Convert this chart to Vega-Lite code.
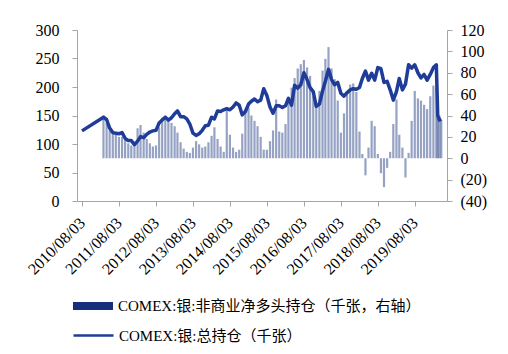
{
  "$schema": "https://vega.github.io/schema/vega-lite/v6.json",
  "width": 370,
  "height": 171,
  "autosize": {"type": "none"},
  "padding": {"left": 77, "top": 30, "right": 61, "bottom": 153},
  "background": "white",
  "config": {
    "view": {"stroke": null},
    "axis": {
      "labelFont": "Liberation Serif",
      "labelFontSize": 16,
      "labelColor": "#000000",
      "domainColor": "#a6a6a6",
      "tickColor": "#a6a6a6",
      "grid": false,
      "title": null
    },
    "legend": {
      "orient": "none",
      "title": null,
      "labelFont": "'Liberation Serif', 'Noto Sans CJK SC', serif",
      "labelFontSize": 15,
      "labelColor": "#000000",
      "labelLimit": 500,
      "labelOffset": 4,
      "symbolSize": 1600,
      "symbolOpacity": 1
    }
  },
  "data": {
    "values": [
      {"date": "2010-08-03", "total": 123, "net": null},
      {"date": "2011-03-03", "total": 147, "net": 40},
      {"date": "2011-04-03", "total": 143, "net": 33},
      {"date": "2011-05-03", "total": 128, "net": 26},
      {"date": "2011-06-03", "total": 120, "net": 24},
      {"date": "2011-07-03", "total": 119, "net": 22},
      {"date": "2011-08-03", "total": 118, "net": 20},
      {"date": "2011-09-03", "total": 120, "net": 20},
      {"date": "2011-10-03", "total": 110, "net": 18},
      {"date": "2011-11-03", "total": 106, "net": 14},
      {"date": "2011-12-03", "total": 106, "net": 12},
      {"date": "2012-01-03", "total": 99, "net": 15},
      {"date": "2012-02-03", "total": 105, "net": 28},
      {"date": "2012-03-03", "total": 113, "net": 31},
      {"date": "2012-04-03", "total": 111, "net": 24},
      {"date": "2012-05-03", "total": 117, "net": 18},
      {"date": "2012-06-03", "total": 121, "net": 14},
      {"date": "2012-07-03", "total": 123, "net": 11},
      {"date": "2012-08-03", "total": 124, "net": 12},
      {"date": "2012-09-03", "total": 137, "net": 29},
      {"date": "2012-10-03", "total": 142, "net": 38},
      {"date": "2012-11-03", "total": 147, "net": 40},
      {"date": "2012-12-03", "total": 142, "net": 35},
      {"date": "2013-01-03", "total": 146, "net": 33},
      {"date": "2013-02-03", "total": 153, "net": 30},
      {"date": "2013-03-03", "total": 158, "net": 24},
      {"date": "2013-04-03", "total": 148, "net": 15},
      {"date": "2013-05-03", "total": 148, "net": 9},
      {"date": "2013-06-03", "total": 144, "net": 6},
      {"date": "2013-07-03", "total": 135, "net": 5},
      {"date": "2013-08-03", "total": 119, "net": 10},
      {"date": "2013-09-03", "total": 115, "net": 16},
      {"date": "2013-10-03", "total": 118, "net": 13},
      {"date": "2013-11-03", "total": 124, "net": 10},
      {"date": "2013-12-03", "total": 132, "net": 11},
      {"date": "2014-01-03", "total": 133, "net": 15},
      {"date": "2014-02-03", "total": 147, "net": 21},
      {"date": "2014-03-03", "total": 144, "net": 29},
      {"date": "2014-04-03", "total": 158, "net": 18},
      {"date": "2014-05-03", "total": 157, "net": 11},
      {"date": "2014-06-03", "total": 160, "net": 6},
      {"date": "2014-07-03", "total": 162, "net": 48},
      {"date": "2014-08-03", "total": 160, "net": 22},
      {"date": "2014-09-03", "total": 165, "net": 10},
      {"date": "2014-10-03", "total": 172, "net": 6},
      {"date": "2014-11-03", "total": 168, "net": 8},
      {"date": "2014-12-03", "total": 151, "net": 23},
      {"date": "2015-01-03", "total": 157, "net": 45},
      {"date": "2015-02-03", "total": 170, "net": 47},
      {"date": "2015-03-03", "total": 175, "net": 40},
      {"date": "2015-04-03", "total": 179, "net": 35},
      {"date": "2015-05-03", "total": 174, "net": 30},
      {"date": "2015-06-03", "total": 177, "net": 20},
      {"date": "2015-07-03", "total": 197, "net": 8},
      {"date": "2015-08-03", "total": 185, "net": 8},
      {"date": "2015-09-03", "total": 165, "net": 16},
      {"date": "2015-10-03", "total": 154, "net": 26},
      {"date": "2015-11-03", "total": 167, "net": 55},
      {"date": "2015-12-03", "total": 167, "net": 25},
      {"date": "2016-01-03", "total": 164, "net": 24},
      {"date": "2016-02-03", "total": 167, "net": 32},
      {"date": "2016-03-03", "total": 180, "net": 52},
      {"date": "2016-04-03", "total": 168, "net": 66},
      {"date": "2016-05-03", "total": 203, "net": 75},
      {"date": "2016-06-03", "total": 198, "net": 84},
      {"date": "2016-07-03", "total": 204, "net": 88},
      {"date": "2016-08-03", "total": 225, "net": 92},
      {"date": "2016-09-03", "total": 213, "net": 85},
      {"date": "2016-10-03", "total": 199, "net": 77},
      {"date": "2016-11-03", "total": 192, "net": 58},
      {"date": "2016-12-03", "total": 166, "net": 50},
      {"date": "2017-01-03", "total": 170, "net": 63},
      {"date": "2017-02-03", "total": 193, "net": 82},
      {"date": "2017-03-03", "total": 210, "net": 93},
      {"date": "2017-04-03", "total": 231, "net": 104},
      {"date": "2017-05-03", "total": 213, "net": 84},
      {"date": "2017-06-03", "total": 204, "net": 74},
      {"date": "2017-07-03", "total": 208, "net": 54},
      {"date": "2017-08-03", "total": 189, "net": 24},
      {"date": "2017-09-03", "total": 184, "net": 42},
      {"date": "2017-10-03", "total": 190, "net": 63},
      {"date": "2017-11-03", "total": 195, "net": 69},
      {"date": "2017-12-03", "total": 197, "net": 70},
      {"date": "2018-01-03", "total": 196, "net": 62},
      {"date": "2018-02-03", "total": 199, "net": 25},
      {"date": "2018-03-03", "total": 215, "net": 4},
      {"date": "2018-04-03", "total": 228, "net": -16},
      {"date": "2018-05-03", "total": 212, "net": 10},
      {"date": "2018-06-03", "total": 224, "net": 35},
      {"date": "2018-07-03", "total": 212, "net": 30},
      {"date": "2018-08-03", "total": 234, "net": 4},
      {"date": "2018-09-03", "total": 232, "net": -14},
      {"date": "2018-10-03", "total": 208, "net": -27},
      {"date": "2018-11-03", "total": 210, "net": -9},
      {"date": "2018-12-03", "total": 195, "net": 6},
      {"date": "2019-01-03", "total": 177, "net": 32},
      {"date": "2019-02-03", "total": 192, "net": 55},
      {"date": "2019-03-03", "total": 215, "net": 22},
      {"date": "2019-04-03", "total": 195, "net": 10},
      {"date": "2019-05-03", "total": 205, "net": -18},
      {"date": "2019-06-03", "total": 239, "net": 5},
      {"date": "2019-07-03", "total": 233, "net": 35},
      {"date": "2019-08-03", "total": 239, "net": 63},
      {"date": "2019-09-03", "total": 225, "net": 56},
      {"date": "2019-10-03", "total": 216, "net": 54},
      {"date": "2019-11-03", "total": 222, "net": 50},
      {"date": "2019-12-03", "total": 212, "net": 46},
      {"date": "2020-01-03", "total": 222, "net": 58},
      {"date": "2020-02-03", "total": 234, "net": 68},
      {"date": "2020-03-03", "total": 239, "net": 66},
      {"date": "2020-03-17", "total": 150, "net": 48},
      {"date": "2020-04-03", "total": 142, "net": 40},
      {"date": "2020-04-21", "total": 144, "net": 35}
    ]
  },
  "encoding": {
    "x": {
      "field": "date",
      "type": "temporal",
      "scale": {
        "type": "utc",
        "domain": [
          {"year": 2010, "month": 8, "date": 3, "utc": true},
          {"year": 2020, "month": 4, "date": 28, "utc": true}
        ]
      },
      "axis": {
        "values": [
          {"year": 2010, "month": 8, "date": 3, "utc": true},
          {"year": 2011, "month": 8, "date": 3, "utc": true},
          {"year": 2012, "month": 8, "date": 3, "utc": true},
          {"year": 2013, "month": 8, "date": 3, "utc": true},
          {"year": 2014, "month": 8, "date": 3, "utc": true},
          {"year": 2015, "month": 8, "date": 3, "utc": true},
          {"year": 2016, "month": 8, "date": 3, "utc": true},
          {"year": 2017, "month": 8, "date": 3, "utc": true},
          {"year": 2018, "month": 8, "date": 3, "utc": true},
          {"year": 2019, "month": 8, "date": 3, "utc": true}
        ],
        "labelExpr": "utcFormat(datum.value, '%Y/%m/%d')",
        "labelOverlap": false,
        "labelAngle": -45,
        "labelAlign": "right",
        "labelBaseline": "middle",
        "tickSize": 5,
        "labelPadding": 14
      }
    }
  },
  "layer": [
    {
      "mark": {"type": "bar", "width": 2.2, "opacity": 0.45},
      "encoding": {
        "y": {
          "field": "net",
          "type": "quantitative",
          "scale": {"domain": [-40, 120], "nice": false},
          "axis": {
            "orient": "right",
            "values": [-40, -20, 0, 20, 40, 60, 80, 100, 120],
            "labelExpr": "datum.value < 0 ? '(' + (-datum.value) + ')' : datum.label",
            "tickSize": 5,
            "labelPadding": 8
          }
        },
        "color": {
          "datum": "COMEX:银:非商业净多头持仓（千张，右轴）",
          "scale": {"range": ["#14307a"]},
          "legend": {
            "symbolType": "M-1,-0.2H1V0.2H-1Z",
            "legendX": -5,
            "legendY": 255
          }
        }
      }
    },
    {
      "mark": {"type": "line", "strokeWidth": 3.5, "strokeJoin": "round"},
      "encoding": {
        "y": {
          "field": "total",
          "type": "quantitative",
          "scale": {"domain": [0, 300], "nice": false},
          "axis": {
            "orient": "left",
            "values": [0, 50, 100, 150, 200, 250, 300],
            "tickSize": 5,
            "labelPadding": 13
          }
        },
        "color": {
          "datum": "COMEX:银:总持仓（千张）",
          "scale": {"range": ["#1f3c98"]},
          "legend": {
            "symbolType": "stroke",
            "symbolStrokeWidth": 2.5,
            "legendX": -5,
            "legendY": 284
          }
        }
      }
    }
  ],
  "resolve": {"scale": {"y": "independent", "color": "independent"}}
}
